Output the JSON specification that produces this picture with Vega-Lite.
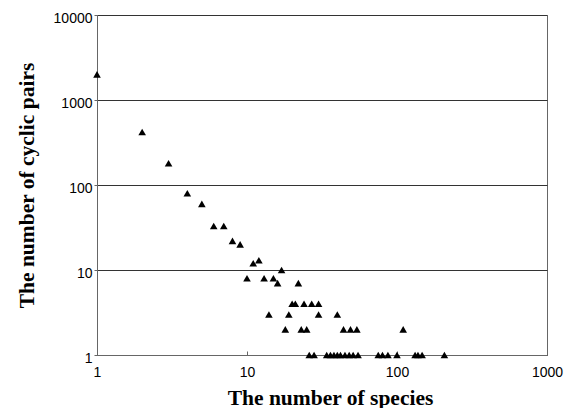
{
  "$schema": "https://vega.github.io/schema/vega-lite/v6.json",
  "width": 450,
  "height": 340,
  "autosize": "none",
  "padding": {"left": 97, "top": 15, "right": 18, "bottom": 53},
  "background": "white",
  "config": {
    "view": {"stroke": "#666", "strokeWidth": 1},
    "axis": {"labelFont": "Liberation Sans", "labelFontSize": 14, "labelColor": "black", "titleFont": "Liberation Serif", "titleFontWeight": "bold", "titleFontSize": 21.5, "titleColor": "black", "domainColor": "#666", "tickColor": "#666"}
  },
  "data": {
    "values": [
      {"x": 1, "y": 2000}, {"x": 2, "y": 420}, {"x": 3, "y": 180}, {"x": 4, "y": 80},
      {"x": 5, "y": 60}, {"x": 6, "y": 33}, {"x": 7, "y": 33}, {"x": 8, "y": 22},
      {"x": 9, "y": 20}, {"x": 10, "y": 8}, {"x": 11, "y": 12}, {"x": 12, "y": 13},
      {"x": 13, "y": 8}, {"x": 14, "y": 3}, {"x": 15, "y": 8}, {"x": 16, "y": 7},
      {"x": 17, "y": 10}, {"x": 18, "y": 2}, {"x": 19, "y": 3}, {"x": 20, "y": 4},
      {"x": 21, "y": 4}, {"x": 22, "y": 7}, {"x": 23, "y": 2}, {"x": 24, "y": 4},
      {"x": 25, "y": 2}, {"x": 27, "y": 4}, {"x": 30, "y": 4}, {"x": 30, "y": 3},
      {"x": 40, "y": 3}, {"x": 44, "y": 2}, {"x": 49, "y": 2}, {"x": 54, "y": 2},
      {"x": 110, "y": 2},
      {"x": 26, "y": 1}, {"x": 28, "y": 1}, {"x": 34, "y": 1}, {"x": 36, "y": 1},
      {"x": 38, "y": 1}, {"x": 40, "y": 1}, {"x": 42, "y": 1}, {"x": 45, "y": 1},
      {"x": 48, "y": 1}, {"x": 51, "y": 1}, {"x": 55, "y": 1}, {"x": 75, "y": 1},
      {"x": 80, "y": 1}, {"x": 87, "y": 1}, {"x": 100, "y": 1}, {"x": 132, "y": 1},
      {"x": 138, "y": 1}, {"x": 147, "y": 1}, {"x": 207, "y": 1}
    ]
  },
  "mark": {"type": "point", "shape": "triangle-up", "filled": true, "color": "black", "opacity": 1, "size": 58},
  "encoding": {
    "x": {
      "field": "x", "type": "quantitative",
      "scale": {"type": "log", "domain": [1, 1000], "nice": false},
      "axis": {"title": "The number of species", "values": [1, 10, 100, 1000], "format": "d", "grid": false, "tickSize": -4, "labelPadding": 14, "titlePadding": 8, "titleX": 233, "labelFlush": false}
    },
    "y": {
      "field": "y", "type": "quantitative",
      "scale": {"type": "log", "domain": [1, 10000], "nice": false},
      "axis": {"title": "The number of cyclic pairs", "values": [1, 10, 100, 1000, 10000], "format": "d", "grid": true, "gridColor": "#333", "gridOpacity": 1, "tickSize": 3, "labelPadding": 2, "labelOffset": 3, "titlePadding": 15, "labelFlush": false}
    }
  }
}
